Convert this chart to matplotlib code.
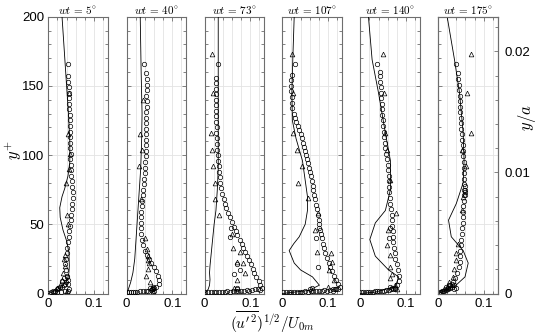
import matplotlib
matplotlib.use("Agg")
import matplotlib.pyplot as plt
from matplotlib.ticker import MultipleLocator, FixedLocator

plt.rcParams['mathtext.fontset'] = 'cm'
plt.rcParams['font.family'] = ['Liberation Sans', 'DejaVu Sans']

titles = [r'$wt\,=\,5^{\circ}$', r'$wt\,=\,40^{\circ}$', r'$wt\,=\,73^{\circ}$',
          r'$wt\,=\,107^{\circ}$', r'$wt\,=\,140^{\circ}$', r'$wt\,=\,175^{\circ}$']
xticks = [0, 0.1]
xticklabels = ['0', '0.1']
yticks = [0, 50, 100, 150, 200]
ya_ticks = [0, 0.01, 0.02]
ya_ticklabels = ['0', '0.01', '0.02']

# ---- panel 1 (5 deg)
p1_line_x = [0, 0.015, 0.03, 0.042, 0.045, 0.046, 0.045, 0.04, 0.032, 0.026, 0.025, 0.03, 0.036, 0.043, 0.047, 0.047, 0.044, 0.040, 0.035, 0.030]
p1_line_y = [0, 2, 5, 10, 15, 20, 30, 38, 46, 55, 62, 70, 76, 85, 95, 110, 130, 150, 175, 200]
p1_circ_x = [0.043, 0.044, 0.044, 0.045, 0.045, 0.046, 0.046, 0.046, 0.047, 0.047, 0.047, 0.048, 0.048, 0.048, 0.048, 0.049, 0.048, 0.049, 0.050, 0.050, 0.051, 0.052, 0.053, 0.053, 0.052, 0.051, 0.050, 0.049, 0.048, 0.046, 0.045, 0.043, 0.041, 0.040, 0.038, 0.037, 0.038, 0.040, 0.042, 0.044]
p1_circ_y = [166, 157, 153, 149, 145, 141, 137, 133, 129, 125, 121, 117, 113, 109, 105, 101, 97, 93, 89, 85, 81, 77, 73, 69, 65, 61, 57, 53, 49, 45, 41, 37, 33, 29, 25, 21, 17, 13, 10, 7]
p1_wall_x = [0.002, 0.006, 0.010, 0.014, 0.018, 0.022, 0.026, 0.030, 0.034, 0.036, 0.038, 0.030, 0.035, 0.040, 0.045, 0.042, 0.036, 0.028, 0.020, 0.012]
p1_wall_y = [0.5, 1, 1.5, 2, 3, 4, 4.5, 5, 6, 7, 8, 9, 11, 12, 3, 2, 1.5, 1, 1, 0.8]
p1_tri_x = [0.045, 0.044, 0.047, 0.046, 0.038, 0.040, 0.043, 0.036, 0.034, 0.036, 0.033, 0.030, 0.025, 0.020, 0.040]
p1_tri_y = [145, 115, 101, 90, 80, 57, 50, 28, 25, 20, 15, 10, 6, 4, 2]

# ---- panel 2 (40 deg)
p2_line_x = [0, 0.004, 0.009, 0.014, 0.018, 0.020, 0.022, 0.024, 0.026, 0.028, 0.031, 0.033, 0.034, 0.032, 0.030]
p2_line_y = [0, 3, 8, 15, 25, 35, 45, 55, 65, 75, 90, 110, 130, 160, 200]
p2_circ_x = [0.038, 0.043, 0.044, 0.044, 0.044, 0.043, 0.044, 0.044, 0.043, 0.043, 0.043, 0.042, 0.042, 0.042, 0.043, 0.042, 0.042, 0.041, 0.041, 0.040, 0.039, 0.038, 0.036, 0.035, 0.034, 0.033, 0.032, 0.031, 0.031, 0.031, 0.032, 0.033, 0.036, 0.040, 0.044, 0.049, 0.054, 0.059, 0.064, 0.068, 0.071, 0.070, 0.065, 0.060]
p2_circ_y = [166, 159, 155, 151, 147, 143, 139, 135, 131, 127, 123, 119, 115, 111, 107, 103, 99, 95, 91, 87, 83, 79, 75, 71, 67, 63, 59, 55, 51, 47, 43, 39, 35, 31, 28, 25, 22, 19, 16, 13, 10, 7, 5, 4]
p2_wall_x = [0.002, 0.006, 0.010, 0.014, 0.018, 0.024, 0.030, 0.036, 0.042, 0.048, 0.054, 0.058, 0.060, 0.055, 0.052, 0.058]
p2_wall_y = [1, 1, 1, 1.2, 1, 1.2, 1.5, 1.5, 2, 2, 2.5, 3, 2, 3, 4, 5]
p2_tri_x = [0.035, 0.029, 0.034, 0.028, 0.031, 0.040, 0.044, 0.048, 0.046, 0.050, 0.047, 0.043, 0.052, 0.055, 0.058]
p2_tri_y = [140, 115, 104, 92, 68, 40, 32, 27, 24, 22, 18, 13, 8, 4, 2]

# ---- panel 3 (73 deg)
p3_line_x = [0, 0.008, 0.011, 0.012, 0.011, 0.012, 0.015, 0.018, 0.021, 0.025, 0.028, 0.030, 0.030, 0.030, 0.030, 0.030]
p3_line_y = [0, 3, 6, 10, 15, 20, 30, 40, 50, 60, 75, 90, 110, 140, 170, 200]
p3_circ_x = [0.029, 0.026, 0.025, 0.026, 0.025, 0.026, 0.026, 0.025, 0.026, 0.026, 0.027, 0.026, 0.027, 0.027, 0.028, 0.029, 0.030, 0.031, 0.032, 0.033, 0.034, 0.035, 0.038, 0.042, 0.045, 0.048, 0.052, 0.056, 0.060, 0.064, 0.068, 0.072, 0.077, 0.081, 0.085, 0.089, 0.093, 0.097, 0.101, 0.105, 0.109, 0.113, 0.118, 0.122, 0.126, 0.122, 0.058, 0.055, 0.070, 0.078, 0.065]
p3_circ_y = [166, 156, 152, 148, 144, 140, 136, 132, 128, 124, 120, 116, 112, 108, 104, 100, 96, 92, 88, 84, 80, 76, 72, 68, 65, 62, 58, 55, 52, 48, 45, 42, 39, 36, 33, 30, 27, 24, 21, 18, 15, 12, 9, 6, 4, 2.5, 47, 41, 21, 17, 14]
p3_wall_x = [0.002, 0.008, 0.014, 0.020, 0.026, 0.032, 0.038, 0.044, 0.050, 0.056, 0.062, 0.068, 0.074, 0.080, 0.086, 0.092, 0.098, 0.104, 0.110, 0.116, 0.070, 0.072]
p3_wall_y = [1, 1, 1, 1, 1.2, 1, 1.2, 1, 1.5, 1.2, 1.5, 2, 1.5, 2, 2, 2.5, 2, 2.5, 3, 3, 3, 4]
p3_tri_x = [0.016, 0.018, 0.015, 0.017, 0.019, 0.022, 0.024, 0.031, 0.060, 0.062, 0.078, 0.070, 0.085, 0.088, 0.072, 0.065]
p3_tri_y = [173, 145, 116, 104, 92, 80, 68, 57, 43, 33, 30, 23, 22, 15, 10, 4]

# ---- panel 4 (107 deg)
p4_line_x = [0, 0.040, 0.059, 0.081, 0.066, 0.040, 0.026, 0.015, 0.025, 0.037, 0.050, 0.055, 0.055, 0.044, 0.030, 0.022, 0.021, 0.023, 0.026]
p4_line_y = [0, 1.5, 2.4, 6, 12, 17, 22, 31, 36, 41, 50, 60, 70, 96, 112, 125, 145, 170, 200]
p4_circ_x = [0.027, 0.021, 0.020, 0.020, 0.020, 0.021, 0.021, 0.022, 0.025, 0.028, 0.031, 0.034, 0.037, 0.040, 0.043, 0.046, 0.048, 0.050, 0.052, 0.054, 0.056, 0.058, 0.060, 0.062, 0.064, 0.066, 0.068, 0.070, 0.072, 0.074, 0.076, 0.078, 0.080, 0.081, 0.082, 0.084, 0.086, 0.088, 0.091, 0.094, 0.097, 0.101, 0.105, 0.109, 0.113, 0.117, 0.121, 0.125, 0.118, 0.110, 0.073, 0.079, 0.080]
p4_circ_y = [166, 158, 154, 150, 146, 142, 138, 134, 130, 127, 124, 121, 118, 115, 112, 109, 106, 103, 100, 97, 94, 91, 88, 85, 81, 78, 75, 71, 68, 64, 61, 57, 53, 50, 46, 43, 40, 36, 33, 29, 26, 22, 19, 16, 13, 10, 7, 5, 3, 2, 40, 19, 47]
p4_wall_x = [0.002, 0.008, 0.014, 0.020, 0.026, 0.032, 0.038, 0.044, 0.050, 0.056, 0.062, 0.068, 0.074, 0.080, 0.086, 0.092, 0.098, 0.104, 0.110, 0.116, 0.122, 0.060, 0.065]
p4_wall_y = [1, 1, 1, 1, 1.2, 1, 1.2, 1, 1.5, 1.2, 1.5, 2, 1.5, 2, 2, 2.5, 2, 2.5, 3, 3, 3.5, 3, 4]
p4_tri_x = [0.021, 0.023, 0.024, 0.032, 0.043, 0.035, 0.057, 0.077, 0.072, 0.075, 0.106, 0.109, 0.103, 0.114, 0.100]
p4_tri_y = [173, 145, 116, 104, 92, 80, 69, 58, 46, 30, 29, 23, 17, 10, 5]

# ---- panel 5 (140 deg)
p5_line_x = [0, 0.033, 0.077, 0.084, 0.062, 0.033, 0.021, 0.033, 0.055, 0.066, 0.066, 0.055, 0.040, 0.026, 0.018]
p5_line_y = [0, 1, 5, 12, 17, 27, 39, 51, 60, 75, 96, 116, 145, 169, 200]
p5_circ_x = [0.037, 0.043, 0.044, 0.044, 0.045, 0.046, 0.046, 0.047, 0.047, 0.048, 0.049, 0.050, 0.051, 0.053, 0.054, 0.055, 0.057, 0.059, 0.060, 0.061, 0.062, 0.063, 0.064, 0.064, 0.065, 0.066, 0.068, 0.069, 0.070, 0.070, 0.071, 0.071, 0.072, 0.073, 0.075, 0.077, 0.080, 0.083, 0.085, 0.084, 0.080, 0.075, 0.066, 0.063]
p5_circ_y = [166, 160, 157, 153, 149, 145, 141, 137, 133, 129, 125, 121, 117, 113, 109, 105, 101, 97, 93, 89, 85, 81, 77, 73, 69, 65, 61, 57, 53, 49, 45, 41, 37, 33, 29, 25, 21, 17, 13, 9, 6, 4, 47, 40]
p5_wall_x = [0.002, 0.007, 0.012, 0.017, 0.022, 0.027, 0.032, 0.037, 0.042, 0.047, 0.052, 0.057, 0.062, 0.067, 0.072, 0.077, 0.070, 0.065]
p5_wall_y = [1, 1, 1, 1, 1.2, 1.2, 1.5, 1.5, 1.5, 2, 2, 2.5, 2.5, 3, 3, 3.5, 4, 5]
p5_tri_x = [0.049, 0.052, 0.055, 0.059, 0.066, 0.079, 0.060, 0.059, 0.065, 0.066, 0.070, 0.066, 0.075, 0.080]
p5_tri_y = [173, 145, 116, 104, 82, 58, 46, 35, 28, 19, 14, 11, 6, 3]

# ---- panel 6 (175 deg)
p6_line_x = [0, 0.007, 0.036, 0.059, 0.066, 0.055, 0.029, 0.023, 0.040, 0.055, 0.057, 0.055, 0.047, 0.036, 0.020]
p6_line_y = [0, 1, 5, 12, 22, 31, 41, 53, 65, 80, 96, 116, 145, 169, 200]
p6_circ_x = [0.040, 0.043, 0.044, 0.045, 0.046, 0.047, 0.047, 0.048, 0.049, 0.050, 0.050, 0.051, 0.052, 0.053, 0.054, 0.055, 0.055, 0.056, 0.056, 0.057, 0.057, 0.057, 0.057, 0.056, 0.056, 0.055, 0.055, 0.054, 0.054, 0.053, 0.052, 0.051, 0.050, 0.049, 0.048, 0.047, 0.045, 0.042, 0.038, 0.033, 0.027, 0.021, 0.015, 0.009, 0.004, 0.058, 0.060, 0.059, 0.058]
p6_circ_y = [166, 159, 155, 151, 147, 143, 139, 135, 131, 127, 123, 119, 115, 111, 107, 103, 99, 95, 91, 87, 83, 79, 75, 71, 67, 63, 59, 55, 51, 47, 43, 39, 35, 31, 27, 23, 19, 15, 11, 8, 6, 4, 3, 2, 1, 78, 75, 73, 71]
p6_wall_x = [0.002, 0.006, 0.010, 0.014, 0.018, 0.022, 0.026, 0.030, 0.034, 0.030, 0.024, 0.018, 0.036, 0.040]
p6_wall_y = [0.5, 1, 1.5, 2, 2.5, 3, 4, 5, 6, 7, 6, 5, 3, 4]
p6_tri_x = [0.072, 0.064, 0.072, 0.053, 0.061, 0.055, 0.052, 0.044, 0.040, 0.040, 0.036, 0.032, 0.025, 0.020]
p6_tri_y = [173, 145, 116, 104, 92, 70, 60, 36, 29, 24, 18, 12, 8, 5]

panels = [
    (p1_line_x, p1_line_y, p1_circ_x + p1_wall_x, p1_circ_y + p1_wall_y, p1_tri_x, p1_tri_y),
    (p2_line_x, p2_line_y, p2_circ_x + p2_wall_x, p2_circ_y + p2_wall_y, p2_tri_x, p2_tri_y),
    (p3_line_x, p3_line_y, p3_circ_x + p3_wall_x, p3_circ_y + p3_wall_y, p3_tri_x, p3_tri_y),
    (p4_line_x, p4_line_y, p4_circ_x + p4_wall_x, p4_circ_y + p4_wall_y, p4_tri_x, p4_tri_y),
    (p5_line_x, p5_line_y, p5_circ_x + p5_wall_x, p5_circ_y + p5_wall_y, p5_tri_x, p5_tri_y),
    (p6_line_x, p6_line_y, p6_circ_x + p6_wall_x, p6_circ_y + p6_wall_y, p6_tri_x, p6_tri_y),
]

W, H = 550, 335
fig = plt.figure(figsize=(5.5, 3.35), dpi=100)
lefts = [48.3, 126.5, 204.5, 282.3, 360.2, 438.0]
pw = 59.5
top, bottom = 16.7, 293.5
spine_c = '#6e6e6e'
grid_c = '#e3e3e3'

axes = []
for i, (lx, ly, cx, cy, tx, ty) in enumerate(panels):
    ax = fig.add_axes([lefts[i] / W, 1 - bottom / H, pw / W, (bottom - top) / H])
    axes.append(ax)
    ax.set_xlim(0, 0.13)
    ax.set_ylim(0, 200)
    ax.xaxis.set_major_locator(FixedLocator(xticks))
    ax.set_xticklabels(xticklabels)
    ax.xaxis.set_minor_locator(MultipleLocator(0.02))
    ax.yaxis.set_major_locator(FixedLocator(yticks))
    ax.yaxis.set_minor_locator(MultipleLocator(10))
    ax.grid(True, which='major', axis='y', color=grid_c, lw=0.6)
    ax.grid(True, which='minor', axis='x', color=grid_c, lw=0.6)
    ax.grid(True, which='major', axis='x', color=grid_c, lw=0.6)
    ax.set_axisbelow(True)
    ax.tick_params(which='both', direction='in', top=True, right=True,
                   color=spine_c, width=0.6, labelsize=9.5, pad=3)
    ax.tick_params(which='major', length=3)
    ax.tick_params(which='minor', length=2)
    if i > 0:
        ax.set_yticklabels([])
    else:
        ax.set_yticklabels([str(v) for v in yticks])
    for s in ax.spines.values():
        s.set_color(spine_c)
        s.set_linewidth(0.8)
    ax.plot(lx, ly, color='black', lw=0.6, zorder=3)
    ax.plot(cx, cy, linestyle='none', marker='o', ms=3.2, mfc='none',
            mec='black', mew=0.5, zorder=4)
    ax.plot(tx, ty, linestyle='none', marker='^', ms=3.4, mfc='none',
            mec='black', mew=0.5, zorder=4)
    ax.set_title(titles[i], fontsize=8, pad=2)

fig.text(13 / W, 1 - 150 / H, r'$y^{+}$', rotation=90, fontsize=12, ha='center', va='center')

tw = axes[-1].twinx()
tw.set_ylim(0, 200 / 8750)
tw.yaxis.set_major_locator(FixedLocator(ya_ticks))
tw.set_yticklabels(ya_ticklabels)
tw.yaxis.set_minor_locator(MultipleLocator(0.002))
tw.tick_params(which='both', direction='in', color=spine_c, width=0.6, labelsize=9.5, pad=5)
tw.tick_params(which='major', length=3)
tw.tick_params(which='minor', length=2)
for s in tw.spines.values():
    s.set_color(spine_c)
    s.set_linewidth(0.8)

fig.text(527 / W, 1 - 118 / H, r'$y/a$', rotation=90, fontsize=12, ha='center', va='center')
fig.text(272 / W, 1 - 322 / H, r"$(\overline{u'^{2}})^{1/2}/U_{0m}$", fontsize=11,
         ha='center', va='center')

fig.savefig('out.png', dpi=100)
